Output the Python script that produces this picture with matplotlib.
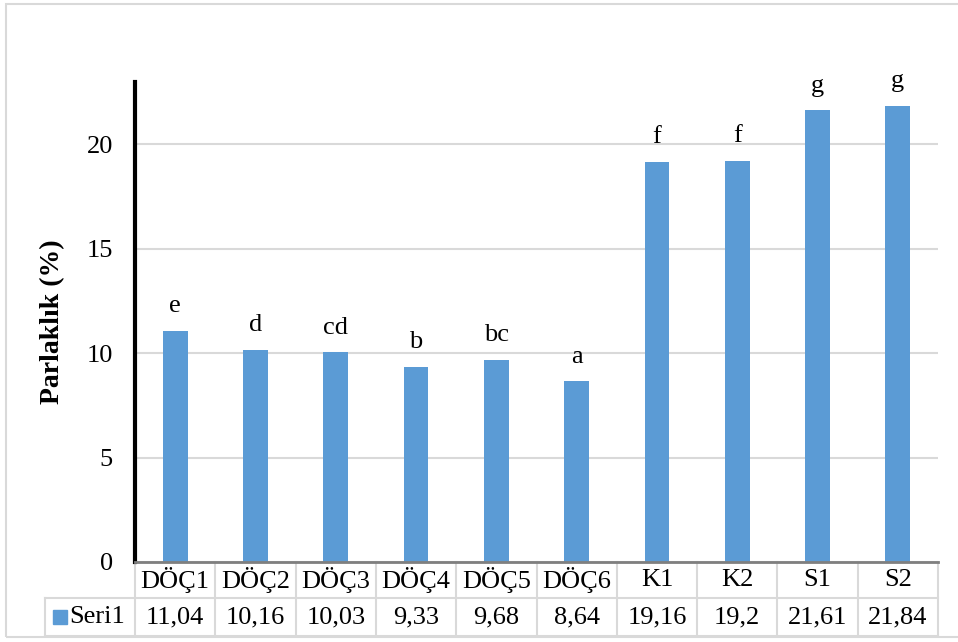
import numpy as np
import matplotlib.pyplot as plt
import matplotlib.transforms as mtransforms
from matplotlib.patches import Rectangle

plt.rcParams['font.family'] = ['Liberation Serif', 'DejaVu Serif']

# data
categories = ['DÖÇ1', 'DÖÇ2', 'DÖÇ3', 'DÖÇ4', 'DÖÇ5', 'DÖÇ6', 'K1', 'K2', 'S1', 'S2']
values = [11.04, 10.16, 10.03, 9.33, 9.68, 8.64, 19.16, 19.2, 21.61, 21.84]
value_labels = ['11,04', '10,16', '10,03', '9,33', '9,68', '8,64', '19,16', '19,2', '21,61', '21,84']
letters = ['e', 'd', 'cd', 'b', 'bc', 'a', 'f', 'f', 'g', 'g']
series_name = 'Seri1'

W, H = 958, 642
bar_color = '#5b9bd5'
grid_color = '#d9d9d9'
fs = 19

fig = plt.figure(figsize=(W / 100, H / 100), dpi=100)
# outer chart frame
fig.patches.append(Rectangle((6 / W, (H - 637) / H), 1.2, (637 - 4) / H,
                             transform=fig.transFigure, fill=False,
                             edgecolor='#d9d9d9', lw=1.5))

ax = fig.add_axes([135 / W, (H - 562) / H, (938 - 135) / W, (562 - 82) / H])
x = np.arange(len(categories))
ax.bar(x, values, width=0.31, color=bar_color, zorder=3)
ax.set_xlim(-0.5, len(categories) - 0.5)
ax.set_ylim(0, 22.97)
ax.set_yticks([0, 5, 10, 15, 20])
ax.set_xticks([])
ax.yaxis.grid(True, color=grid_color, lw=1.5)
ax.tick_params(axis='y', length=0, labelsize=fs, pad=16)
for s in ['top', 'right']:
    ax.spines[s].set_visible(False)
ax.spines['left'].set_linewidth(3)
ax.spines['left'].set_color('black')
ax.spines['bottom'].set_linewidth(2)
ax.spines['bottom'].set_color('#7f7f7f')
ax.spines['bottom'].set_zorder(4)
ax.set_ylabel('Parlaklık (%)', fontsize=20, fontweight='bold', labelpad=15)

for xi, v, l in zip(x, values, letters):
    ax.annotate(l, (xi, v), xytext=(0, 10), textcoords='offset points',
                ha='center', va='bottom', fontsize=fs)

# data table under the axis
px = 1 / (562 - 82)  # one pixel in axes fraction (vertical)
trans = mtransforms.blended_transform_factory(ax.transData, ax.transAxes)
row1_bot = -(598 - 562) * px
row2_bot = -(636 - 562) * px
left_edge = -0.5 - (135 - 45) / ((938 - 135) / len(categories))
lkw = dict(color=grid_color, lw=1.5, transform=trans, clip_on=False)
for i in range(len(categories) + 1):
    ax.plot([i - 0.5, i - 0.5], [0, row2_bot], **lkw)
ax.plot([left_edge, left_edge], [row1_bot, row2_bot], **lkw)
ax.plot([left_edge, len(categories) - 0.5], [row1_bot, row1_bot], **lkw)
ax.plot([left_edge, len(categories) - 0.5], [row2_bot, row2_bot], **lkw)

for xi, c, vl in zip(x, categories, value_labels):
    ax.text(xi, row1_bot / 2, c, ha='center', va='center', fontsize=fs,
            transform=trans, clip_on=False)
    ax.text(xi, (row1_bot + row2_bot) / 2, vl, ha='center', va='center',
            fontsize=fs, transform=trans, clip_on=False)

# legend key in table
ax.add_patch(Rectangle((left_edge + 0.1, (row1_bot + row2_bot) / 2 - 7 * px),
                       0.17, 14 * px, color=bar_color, transform=trans,
                       clip_on=False))
ax.text(left_edge + 0.3, (row1_bot + row2_bot) / 2, series_name, ha='left',
        va='center', fontsize=fs, transform=trans, clip_on=False)

fig.savefig('out.png', dpi=100)
